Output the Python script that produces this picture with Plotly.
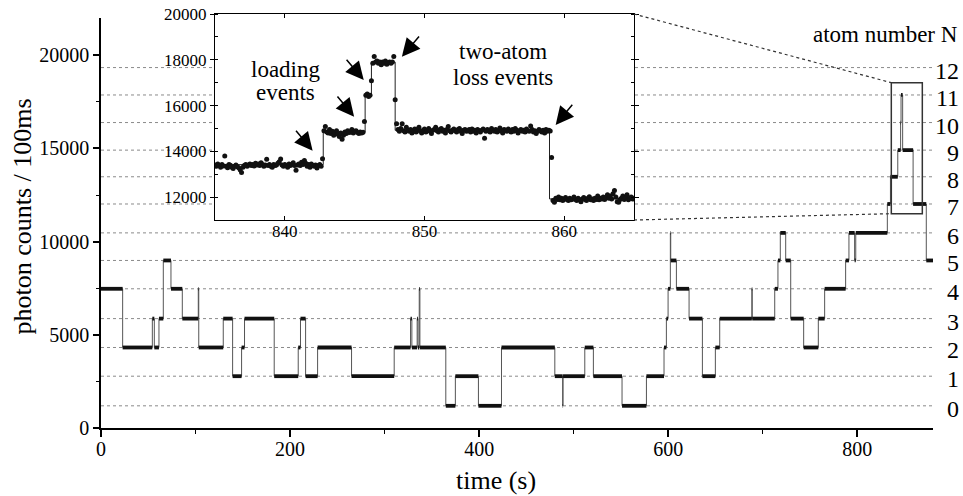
import plotly.graph_objects as go

# ---------------- data ----------------
# photon-count level of each atom number N (dotted reference lines)
N_LEVELS = [1190, 2780, 4320, 5870, 7470, 8990, 10470, 12020, 13480, 14910, 16390, 17870, 19340]
N_LABELS = ["0", "1", "2", "3", "4", "5", "6", "7", "8", "9", "10", "11", "12"]

# main trace: start time (s) of each plateau and its atom number
SEG_START = [0.0, 22.9, 54.3, 56.4, 61.3, 65.9, 74.0, 86.0, 102.9, 103.4,
             129.3, 139.2, 148.7, 151.8, 183.2, 208.6, 211.0, 216.4, 229.1, 265.0,
             310.1, 327.4, 328.8, 334.4, 335.3, 336.6, 337.3, 364.7, 374.8, 399.2,
             423.6, 480.0, 488.3, 488.7, 511.7, 520.8, 551.1, 576.9, 595.5, 598.0,
             599.8, 602.2, 602.6, 608.6, 622.0, 636.1, 649.8, 654.4, 688.4, 688.8,
             712.6, 716.0, 718.5, 724.2, 729.5, 743.2, 758.7, 765.4, 787.6, 791.1,
             797.1, 798.3, 831.7, 835.0, 842.75, 845.75, 846.2, 847.9, 858.95, 872.9]
SEG_N = [4, 2, 3, 2, 3, 5, 4, 3, 4, 2,
         3, 1, 2, 3, 1, 2, 3, 1, 2, 1,
         2, 3, 2, 3, 2, 4, 2, 0, 1, 0,
         2, 1, 0, 1, 2, 1, 0, 1, 2, 3,
         4, 6, 5, 4, 3, 1, 2, 3, 4, 3,
         4, 5, 6, 5, 3, 2, 3, 4, 5, 6,
         5, 6, 7, 8, 9, 10, 11, 9, 7, 5]
T_END = 880.0

# inset: raw 100 ms samples from 835.0 s to 865.0 s
INSET_T0 = 835.0
INSET_DT = 0.1
INSET_COUNTS = [
    13400, 13350, 13450, 13380, 13300, 13420, 13360, 13800, 13350, 13280,
    13420, 13390, 13300, 13250, 13350, 13400, 13330, 13280, 13200, 13080,
    13300, 13380, 13420, 13350, 13400, 13450, 13380, 13420, 13360, 13480,
    13400, 13450, 13380, 13500, 13420, 13350, 13400, 13650, 13380, 13420,
    13350, 13300, 13420, 13380, 13400, 13480, 13550, 13670, 13400, 13350,
    13420, 13380, 13300, 13450, 13380, 13420, 13500, 13380, 13170, 13400,
    13450, 13380, 13520, 13420, 13600, 13480, 13350, 13420, 13300, 13450,
    13380, 13350, 13400, 13270, 13380, 13420, 13350,
    13680,
    14900, 15090, 14850, 14800, 14950, 14780, 14880, 14700, 14820, 14900,
    14750, 14650, 14800, 14530, 14700, 14850, 14780, 14900, 14820, 14850,
    14950, 14800, 14880, 14900, 14820, 14780, 14850, 14800, 14830,
    15300,
    16450, 16500, 16400, 16450,
    17080,
    17850, 18140, 17900, 17950, 17850, 17900, 17780, 17900, 17850, 17950,
    17800, 17880, 17900, 17850, 17900, 18140,
    16250, 15200,
    14950, 14880, 15000, 15200, 14900, 14850, 15050, 14920, 14880, 14950,
    14800, 14900, 14980, 14850, 14950, 15050, 14880, 14800, 14920, 14980,
    14850, 14900, 15000, 14880, 14780, 14920, 14950, 15050, 14900, 14850,
    14950, 15000, 14880, 14920, 14800, 14950, 15080, 14900, 14850, 14920,
    14980, 14900, 14850, 14950, 15000, 14880, 14780, 14920, 14950, 14880,
    14900, 14950, 14850, 14980, 14880, 14920, 14800, 14950, 14900, 14850,
    14920, 14980, 14570, 14880, 14950, 14900, 14850, 15000, 14920, 14880,
    14950, 14850, 14900, 15020, 14880, 14800, 14950, 14920, 14880, 14980,
    14900, 14850, 14950, 14880, 15000, 14920, 14800, 14900, 14950, 14880,
    14920, 14850, 14980, 14900, 14880, 15110, 14950, 14850, 14900, 14780,
    14880, 14950, 14900, 14850, 14920, 14800, 14950, 14880, 14920, 14890,
    13730,
    11850, 11780, 11950, 11900, 12000, 11880, 11950, 11850, 11920, 11980,
    11900, 11850, 11950, 11880, 11920, 12000, 11900, 11850, 11950, 11880,
    11800, 11920, 11980, 11900, 11850, 11950, 12020, 11880, 11920, 11850,
    11950, 11900, 12050, 11880, 11950, 11920, 12000, 11900, 11980, 12100,
    11950, 12050, 11920, 12150, 12290, 12000, 11800, 11780, 11900, 11950,
    12050, 11900, 11980, 12100, 11880, 11950, 12000, 11920, 11950,
]
INSET_STEP_T = [835.0, 842.75, 845.75, 846.2, 847.9, 858.95]
INSET_STEP_V = [13420, 14850, 16420, 17900, 14920, 11920]
INSET_T_END = 865.0

# arrows in the inset (tail -> head), in inset data units
ARROW_TAIL_T = [840.71, 843.68, 844.33, 849.70, 860.67]
ARROW_TAIL_C = [14965, 16463, 18066, 19083, 16100]
ARROW_HEAD_T = [841.99, 844.96, 845.65, 848.38, 859.39]
ARROW_HEAD_C = [14030, 15515, 17118, 18135, 15153]

# zoom rectangle drawn on the main trace
ZOOM_T = [835.9, 868.7]
ZOOM_C = [11500, 18530]

# ---------------- geometry / style ----------------
W, H = 963, 496
ML, MR, MT, MB = 101, 30, 14, 68
PW, PH = W - ML - MR, H - MT - MB
FONT = "Liberation Serif"

def px_x(p):
    return (p - ML) / PW

def px_y(p):
    return (H - MB - p) / PH

MAIN_YDOM = [0, px_y(18)]
INSET_XDOM = [px_x(215), px_x(634)]
INSET_YDOM = [px_y(220), 1.0]
XR = [0, 880]
YR = [0, 22000]

# ---------------- traces ----------------
step_x = SEG_START + [T_END]
step_y = [N_LEVELS[n] for n in SEG_N] + [N_LEVELS[SEG_N[-1]]]

plat_x, plat_y = [], []
for i, n in enumerate(SEG_N):
    t1 = SEG_START[i + 1] if i + 1 < len(SEG_START) else T_END
    plat_x += [SEG_START[i], t1, None]
    plat_y += [N_LEVELS[n], N_LEVELS[n], None]

inset_t = [INSET_T0 + INSET_DT * i for i in range(len(INSET_COUNTS))]
istep_x = INSET_STEP_T + [INSET_T_END]
istep_y = INSET_STEP_V + [INSET_STEP_V[-1]]

fig = go.Figure()
fig.add_trace(go.Scatter(x=step_x, y=step_y, mode="lines", line=dict(shape="hv", width=1, color="#555"),
                         xaxis="x", yaxis="y", hoverinfo="skip"))
fig.add_trace(go.Scatter(x=plat_x, y=plat_y, mode="lines", line=dict(width=3.8, color="#111"),
                         xaxis="x", yaxis="y", hoverinfo="skip"))
fig.add_trace(go.Scatter(x=istep_x, y=istep_y, mode="lines", line=dict(shape="hv", width=1, color="#222"),
                         xaxis="x2", yaxis="y2", hoverinfo="skip"))
fig.add_trace(go.Scatter(x=inset_t, y=INSET_COUNTS, mode="markers",
                         marker=dict(size=5, color="#111"), xaxis="x2", yaxis="y2", hoverinfo="skip"))

# ---------------- shapes ----------------
shapes = []
for lv in N_LEVELS:
    shapes.append(dict(type="line", xref="x", yref="y", x0=XR[0], x1=XR[1], y0=lv, y1=lv,
                       line=dict(color="#8a8a8a", width=1, dash="dot"), layer="below"))
# white area behind the inset (hides dotted lines)
shapes.append(dict(type="rect", xref="paper", yref="paper", x0=px_x(157), x1=px_x(655),
                   y0=px_y(216), y1=px_y(0), fillcolor="white", line=dict(width=0), layer="below"))
shapes.append(dict(type="rect", xref="paper", yref="paper", x0=px_x(184), x1=px_x(655),
                   y0=px_y(245), y1=px_y(216), fillcolor="white", line=dict(width=0), layer="below"))
# zoom box
shapes.append(dict(type="rect", xref="x", yref="y", x0=ZOOM_T[0], x1=ZOOM_T[1], y0=ZOOM_C[0], y1=ZOOM_C[1],
                   line=dict(color="#333", width=1.5), layer="above"))
def to_paper(t, c):
    return (t - XR[0]) / (XR[1] - XR[0]), MAIN_YDOM[0] + (c - YR[0]) / (YR[1] - YR[0]) * (MAIN_YDOM[1] - MAIN_YDOM[0])
bx0, by1 = to_paper(ZOOM_T[0], ZOOM_C[1])
_, by0 = to_paper(ZOOM_T[0], ZOOM_C[0])
shapes.append(dict(type="line", xref="paper", yref="paper", x0=INSET_XDOM[1], y0=INSET_YDOM[1], x1=bx0, y1=by1,
                   line=dict(color="#333", width=1.2, dash="dot")))
shapes.append(dict(type="line", xref="paper", yref="paper", x0=INSET_XDOM[1], y0=INSET_YDOM[0], x1=bx0, y1=by0,
                   line=dict(color="#333", width=1.2, dash="dot")))

# ---------------- annotations ----------------
ann = []
for lv, lab in zip(N_LEVELS, N_LABELS):
    ann.append(dict(xref="paper", yref="y", x=px_x(961), y=lv, text=lab, showarrow=False,
                    xanchor="right", yanchor="middle", yshift=-3, font=dict(family=FONT, size=24, color="black")))
ann.append(dict(xref="paper", yref="paper", x=px_x(960), y=px_y(34), text="atom number N", showarrow=False,
                xanchor="right", yanchor="middle", font=dict(family=FONT, size=23, color="black")))
ann.append(dict(xref="paper", yref="paper", x=px_x(495.5), y=px_y(480), text="time (s)", showarrow=False,
                xanchor="center", yanchor="middle", font=dict(family=FONT, size=26, color="black")))
ann.append(dict(xref="paper", yref="paper", x=px_x(22.5), y=px_y(217), text="photon counts / 100ms", showarrow=False,
                textangle=-90, xanchor="center", yanchor="middle", font=dict(family=FONT, size=26, color="black")))
for txt, t, c in [("loading", 840.06, 17572), ("events", 840.06, 16550),
                  ("two-atom", 855.6, 18341), ("loss events", 855.6, 17205)]:
    ann.append(dict(xref="x2", yref="y2", x=t, y=c, text=txt, showarrow=False,
                    xanchor="center", yanchor="middle", font=dict(family=FONT, size=23, color="black")))
for tt, tc, ht, hc in zip(ARROW_TAIL_T, ARROW_TAIL_C, ARROW_HEAD_T, ARROW_HEAD_C):
    ann.append(dict(xref="x2", yref="y2", axref="x2", ayref="y2", x=ht, y=hc, ax=tt, ay=tc, text="",
                    showarrow=True, arrowhead=2, arrowsize=2.4, arrowwidth=1.5, arrowcolor="black", standoff=0))

tickfont = dict(family=FONT, size=20, color="black")
itickfont = dict(family=FONT, size=17, color="black")

fig.update_layout(
    width=W, height=H, margin=dict(l=ML, r=MR, t=MT, b=MB, pad=0, autoexpand=False),
    font=dict(family=FONT, color="black"),
    paper_bgcolor="white", plot_bgcolor="white", showlegend=False,
    shapes=shapes, annotations=ann,
    xaxis=dict(domain=[0, 1], range=XR, anchor="y", showline=True, linecolor="black", linewidth=1.5,
               ticks="outside", ticklen=7, tickwidth=1.5, tickcolor="black", tick0=0, dtick=200,
               tickformat="d", automargin=False, ticklabelstandoff=-5,
               minor=dict(dtick=100, ticks="outside", ticklen=4, tickwidth=1.2, tickcolor="black", showgrid=False),
               showgrid=False, zeroline=False, tickfont=tickfont),
    yaxis=dict(domain=MAIN_YDOM, range=YR, anchor="x", showline=True, linecolor="black", linewidth=1.5,
               ticks="outside", ticklen=6, tickwidth=1.5, tickcolor="black", tick0=0, dtick=5000,
               tickformat="d", automargin=False,
               minor=dict(dtick=2500, ticks="outside", ticklen=3, tickwidth=1.2, tickcolor="black", showgrid=False),
               showgrid=False, zeroline=False, tickfont=tickfont),
    xaxis2=dict(domain=INSET_XDOM, range=[835, INSET_T_END], anchor="y2", showline=True, mirror="ticks",
                linecolor="black", linewidth=1.3, ticks="inside", ticklen=4, tickwidth=1.2, tickcolor="black",
                tick0=840, dtick=10, tickformat="d", automargin=False, ticklabelstandoff=-5,
                showgrid=False, zeroline=False, tickfont=itickfont),
    yaxis2=dict(domain=INSET_YDOM, range=[11000, 20000], anchor="x2", showline=True, mirror="ticks",
                linecolor="black", linewidth=1.3, ticks="outside", ticklen=4, tickwidth=1.2, tickcolor="black",
                tick0=12000, dtick=2000, tickformat="d", automargin=False,
                minor=dict(dtick=1000, ticks="inside", ticklen=3, tickwidth=1, tickcolor="black", showgrid=False),
                showgrid=False, zeroline=False, tickfont=itickfont),
)

fig.write_html("out.html")
